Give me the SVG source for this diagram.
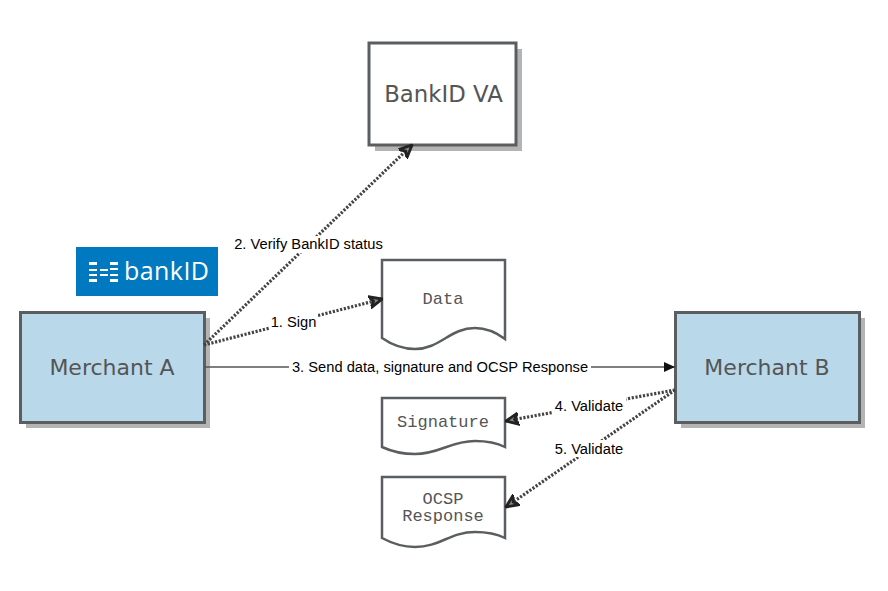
<svg xmlns="http://www.w3.org/2000/svg" width="888" height="591" viewBox="0 0 888 591">
<style>
.box{stroke:#5a5e60;stroke-width:3}
.shadow{fill:#b4b4b4}
.blue{fill:#b9d8ea}
.white{fill:#fff}
.title{font-family:"DejaVu Sans",sans-serif;font-size:22px;fill:#555;text-anchor:middle}
.mono{font-family:"Liberation Mono",monospace;font-size:17px;fill:#555;text-anchor:middle}
.lab{font-family:"Liberation Sans",Arial,sans-serif;font-size:14.700px;fill:#000;text-anchor:middle}
.dash{fill:none;stroke:#444;stroke-width:3.200;stroke-dasharray:2.200 1.600}
.solid{fill:none;stroke:#555;stroke-width:1.500}
.lb{fill:#fff}
.doc{fill:#fff;stroke:#5a5e60;stroke-width:2.500}
</style>
<defs>
<marker id="open" markerUnits="userSpaceOnUse" markerWidth="14" markerHeight="14" refX="11" refY="6" orient="auto" viewBox="0 0 12 12"><path d="M0 1 L11 6 L0 11 L3.500 6 Z" fill="#888" stroke="#222" stroke-width="2.400"/></marker>
<marker id="fill" markerUnits="userSpaceOnUse" markerWidth="12" markerHeight="12" refX="11" refY="6" orient="auto" viewBox="0 0 12 12"><path d="M0 1 L11 6 L0 11 Z" fill="#111"/></marker>
</defs>
<g id="logo">
<rect x="76" y="247" width="142" height="49" fill="#0079c1"/>
<g fill="#fff">
<rect x="89" y="262" width="8" height="3"/><rect x="89" y="269" width="8" height="2"/><rect x="89" y="274" width="8" height="2"/><rect x="89" y="279" width="8" height="3"/>
<rect x="100" y="269" width="8" height="2"/><rect x="100" y="274" width="8" height="2"/>
<rect x="110" y="262" width="8" height="3"/><rect x="110" y="268" width="8" height="2"/><rect x="110" y="274" width="8" height="2"/><rect x="110" y="279" width="8" height="3"/>
</g>
<text x="124" y="280" font-family="'Open Sans','DejaVu Sans',sans-serif" font-size="25" fill="#fff" textLength="85">bankID</text>
</g>
<g id="bankid-va">
<rect class="shadow" x="375" y="49" width="147" height="102"/>
<rect class="box white" x="369" y="43" width="147" height="102"/>
<text class="title" x="443.500" y="102" style="font-size:22.800px">BankID VA</text>
</g>
<g id="merchant-a">
<rect class="shadow" x="26" y="318" width="184" height="110"/>
<rect class="box blue" x="20.500" y="312.500" width="184" height="110"/>
<text class="title" x="112" y="375">Merchant A</text>
</g>
<g id="merchant-b">
<rect class="shadow" x="681" y="318" width="184" height="110"/>
<rect class="box blue" x="675.500" y="312.500" width="184" height="110"/>
<text class="title" x="767" y="375">Merchant B</text>
</g>
<g id="data">
<path class="doc" d="M382 260 H505 V339 C497 333 488 328 475 328 C450 328 440 349 415 349 C405 349 395 347 382 338 Z"/>
<text class="mono" x="443" y="304">Data</text>
</g>
<g id="signature">
<path class="doc" d="M382 398 H505 V447 C497 443 488 441 475 441 C450 441 440 454 415 454 C405 454 395 453 382 447 Z"/>
<text class="mono" x="443" y="427">Signature</text>
</g>
<g id="ocsp-response">
<path class="doc" d="M382 477 H505 V538 C497 534 488 532 475 532 C450 532 440 547 415 547 C405 547 395 545 382 538 Z"/>
<text class="mono" x="443" y="504">OCSP<tspan x="443" dy="17">Response</tspan></text>
</g>
<g id="connectors">
<path class="dash" d="M204 345 L412 145" marker-end="url(#open)"/>
<path class="dash" d="M204 345 L382 299" marker-end="url(#open)"/>
<path class="solid" d="M204 367 L675 367" marker-end="url(#fill)"/>
<path class="dash" d="M675 390 L506 421" marker-end="url(#open)"/>
<path class="dash" d="M675 390 L506 507" marker-end="url(#open)"/>
</g>
<g id="labels">
<rect class="lb" x="232" y="236" width="153" height="17"/>
<text class="lab" x="308.500" y="248.500">2. Verify BankID status</text>
<rect class="lb" x="269" y="314" width="49" height="17"/>
<text class="lab" x="293.500" y="327">1. Sign</text>
<rect class="lb" x="289" y="359" width="302" height="17"/>
<text class="lab" x="440" y="372">3. Send data, signature and OCSP Response</text>
<rect class="lb" x="553" y="397" width="73" height="17"/>
<text class="lab" x="589" y="410.500">4. Validate</text>
<rect class="lb" x="553" y="440" width="73" height="17"/>
<text class="lab" x="589" y="453.500">5. Validate</text>
</g>
</svg>
